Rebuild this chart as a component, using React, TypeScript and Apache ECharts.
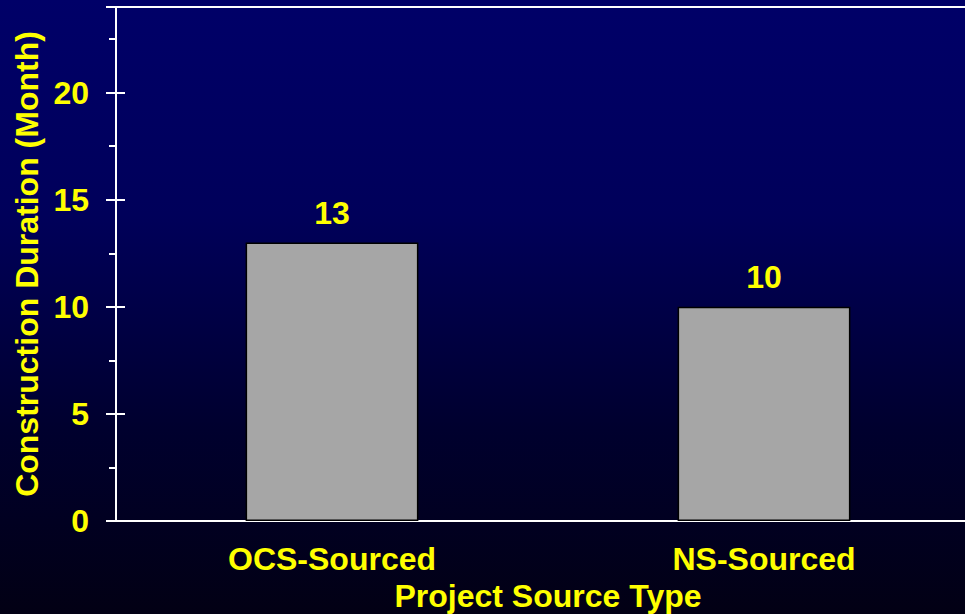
import React, { useEffect, useRef } from "react";
import * as echarts from "echarts";

// Average construction duration by project source
const categories: string[] = ["OCS-Sourced", "NS-Sourced"];
const durations: number[] = [13, 10];

const yMin = 0;
const yMax = 24;
const yInterval = 5;

const FONT = "'Liberation Sans', Arial, Helvetica, sans-serif";
const YELLOW = "#ffff00";

export default function App() {
  const ref = useRef<HTMLDivElement>(null);

  useEffect(() => {
    document.body.style.margin = "0";
    if (!ref.current) return;
    const chart = echarts.init(ref.current, null, { renderer: "svg" });

    const textStyle = {
      color: YELLOW,
      fontFamily: FONT,
      fontWeight: "bold" as const,
      fontSize: 32,
    };

    chart.setOption({
      animation: false,
      backgroundColor: {
        type: "linear",
        x: 0,
        y: 0,
        x2: 0,
        y2: 1,
        colorStops: [
          { offset: 0, color: "#000068" },
          { offset: 0.35, color: "#00005a" },
          { offset: 0.7, color: "#00002e" },
          { offset: 1, color: "#020014" },
        ],
      },
      // the plot frame runs past the right edge of the visible area
      grid: {
        left: 116,
        top: 7,
        right: 0,
        height: 514,
        outerBoundsMode: "none",
        containLabel: false,
        show: true,
        borderColor: "#ffffff",
        borderWidth: 2,
        backgroundColor: "transparent",
      },
      xAxis: {
        type: "category",
        data: categories,
        axisLine: { show: true, lineStyle: { color: "#ffffff", width: 2 } },
        axisTick: { show: false },
        axisLabel: { ...textStyle, margin: 22 },
        name: "Project Source Type",
        nameLocation: "middle",
        nameGap: 59,
        nameTextStyle: textStyle,
      },
      yAxis: [
        {
          type: "value",
          min: yMin,
          max: yMax,
          interval: yInterval,
          axisLine: { show: true, lineStyle: { color: "#ffffff", width: 2 } },
          axisTick: { show: true, length: 10, lineStyle: { color: "#ffffff", width: 2 } },
          minorTick: { show: true, splitNumber: 2, length: 7, lineStyle: { color: "#ffffff", width: 2 } },
          splitLine: { show: false },
          axisLabel: { ...textStyle, margin: 27, showMaxLabel: false },
          name: "Construction Duration (Month)",
          nameLocation: "middle",
          nameGap: 72,
          nameTextStyle: textStyle,
        },
        {
          // inner half of the major ticks
          type: "value",
          position: "left",
          min: yMin,
          max: yMax,
          interval: yInterval,
          axisLine: { show: false },
          axisTick: { show: true, inside: true, length: 9, lineStyle: { color: "#ffffff", width: 2 } },
          axisLabel: { show: false },
          splitLine: { show: false },
        },
      ],
      series: [
        {
          type: "bar",
          data: durations,
          yAxisIndex: 0,
          barWidth: "40%",
          itemStyle: { color: "#a6a6a6", borderColor: "#000000", borderWidth: 1.5 },
          label: {
            show: true,
            position: "top",
            distance: 14,
            ...textStyle,
          },
        },
      ],
    });

    return () => chart.dispose();
  }, []);

  return (
    <div style={{ width: 965, height: 614, overflow: "hidden" }}>
      <div ref={ref} style={{ width: 980, height: 614 }} />
    </div>
  );
}
